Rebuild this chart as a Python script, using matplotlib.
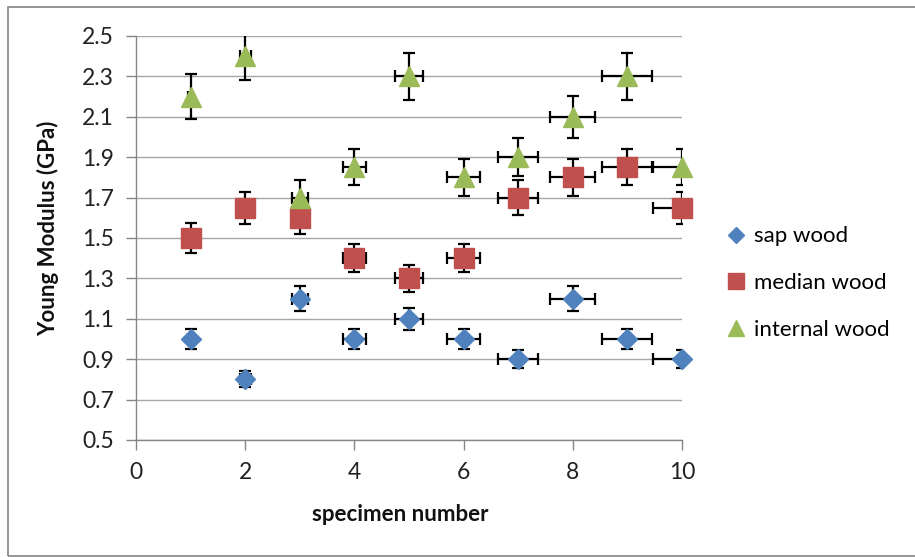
import matplotlib.pyplot as plt
from matplotlib.patches import Rectangle

plt.rcParams['font.family'] = ['Lato', 'DejaVu Sans']

# data
specimen = [1, 2, 3, 4, 5, 6, 7, 8, 9, 10]
x_err = [0.05, 0.1, 0.15, 0.21, 0.26, 0.31, 0.37, 0.41, 0.46, 0.53]

sap = [1.0, 0.8, 1.2, 1.0, 1.1, 1.0, 0.9, 1.2, 1.0, 0.9]
sap_err = [0.05, 0.04, 0.06, 0.05, 0.055, 0.05, 0.045, 0.06, 0.05, 0.045]

median = [1.5, 1.65, 1.6, 1.4, 1.3, 1.4, 1.7, 1.8, 1.85, 1.65]
median_err = [0.075, 0.08, 0.08, 0.07, 0.065, 0.07, 0.085, 0.09, 0.09, 0.08]

internal = [2.2, 2.4, 1.7, 1.85, 2.3, 1.8, 1.9, 2.1, 2.3, 1.85]
internal_err = [0.11, 0.12, 0.085, 0.09, 0.115, 0.09, 0.095, 0.105, 0.115, 0.09]

yticks = [0.5, 0.7, 0.9, 1.1, 1.3, 1.5, 1.7, 1.9, 2.1, 2.3, 2.5]
xticks = [0, 2, 4, 6, 8, 10]

fig = plt.figure(figsize=(9.15, 5.57), dpi=100)
ax = fig.add_axes([0.1486, 0.2101, 0.5967, 0.7253])

series = [
    ("sap wood", sap, sap_err, "D", 10.5, "#4F81BD"),
    ("median wood", median, median_err, "s", 15, "#C0504D"),
    ("internal wood", internal, internal_err, "^", 15, "#9BBB59"),
]

# error bars first, markers on top
for name, vals, err, m, ms, col in series:
    ax.errorbar(specimen, vals, yerr=err, xerr=x_err, fmt="none",
                ecolor="black", elinewidth=1.6, capsize=4, capthick=1.6,
                zorder=3)

for name, vals, err, m, ms, col in series:
    ax.plot(specimen, vals, linestyle="none", marker=m, markersize=ms,
            color=col, markeredgecolor=col, label=name, zorder=4,
            clip_on=False)

ax.set_xlim(0, 10)
ax.set_ylim(0.5, 2.5)
ax.set_xticks(xticks)
ax.set_yticks(yticks)
ax.set_yticklabels([f"{t:.1f}" for t in yticks])
ax.tick_params(axis="both", direction="out", length=7, width=1,
               color="#868686", labelsize=16.5, labelcolor="#222222")
ax.tick_params(axis="y", pad=9)
ax.tick_params(axis="x", pad=9)

ax.grid(axis="y", color="#A6A6A6", linewidth=1.0, zorder=0)
ax.set_axisbelow(True)
for s in ["top", "right"]:
    ax.spines[s].set_visible(False)
for s in ["left", "bottom"]:
    ax.spines[s].set_color("#868686")
    ax.spines[s].set_linewidth(1.0)

ax.set_xlabel("specimen number", fontsize=16, fontweight="bold", color="#111111")
ax.set_ylabel("Young Modulus (GPa)", fontsize=16, fontweight="bold", color="#111111")
ax.xaxis.set_label_coords(0.484, -0.158)
ax.yaxis.set_label_coords(-0.14, 0.525)

leg = fig.legend(loc="center left", bbox_to_anchor=(0.795, 0.492),
                 frameon=False, fontsize=16, handlelength=0.8,
                 handletextpad=0.4, labelspacing=1.2, markerscale=0.8,
                 borderpad=0, borderaxespad=0)

# outer chart border
fig.patches.append(Rectangle((8 / 915, 1 / 557), 1.0, 549 / 557,
                             transform=fig.transFigure, fill=False,
                             edgecolor="#8C8C8C", linewidth=1.3))

fig.savefig("out.png", dpi=100)
